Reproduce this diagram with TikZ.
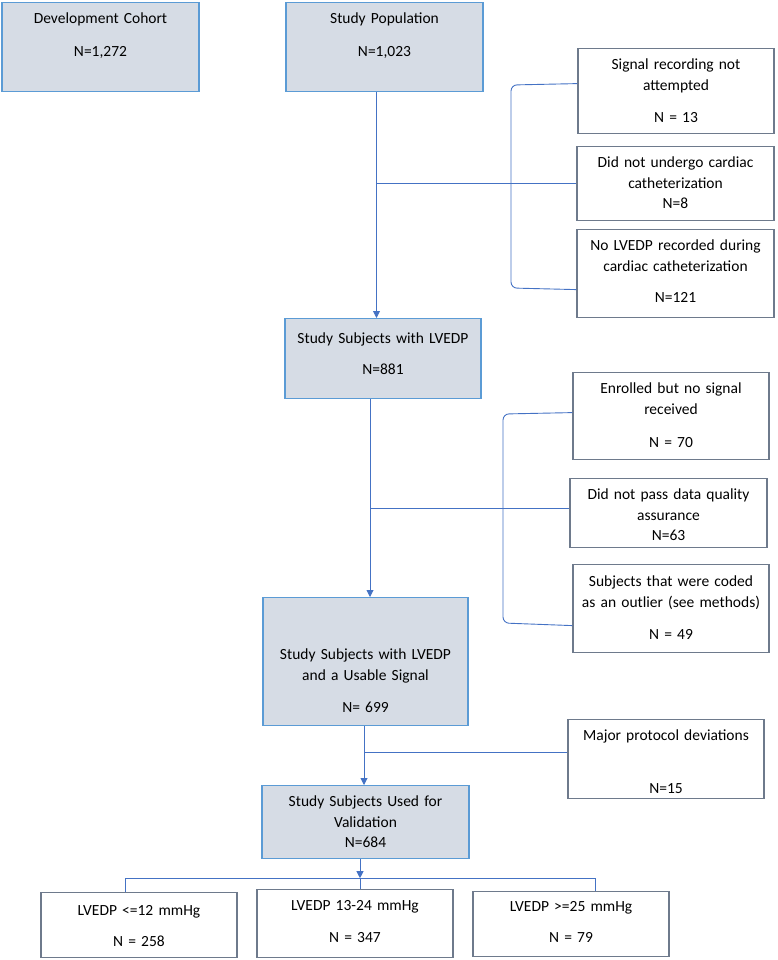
\documentclass[tikz,border=0pt]{standalone}
\usepackage{fontspec}
\setmainfont{Carlito}
\usepackage{xcolor}
\usepackage{tikz}
\usetikzlibrary{arrows.meta}
\usetikzlibrary{calc}

\definecolor{boxfill}{HTML}{D6DCE5}
\definecolor{boxblue}{HTML}{5B9BD5}
\definecolor{sidegray}{HTML}{6E7A8C}
\definecolor{lineblue}{HTML}{4472C4}

\begin{document}
\begin{tikzpicture}[x=1pt, y=-1pt, font=\fontsize{15.5}{20.5}\selectfont,
    cell/.style n args={3}{anchor=north, inner sep=0pt, align=center,
        text width=#1, text height=#2, text depth=#3},
    greybox/.style={draw=boxblue, fill=boxfill, line width=1.2pt},
    sidebox/.style={draw=sidegray, fill=white, line width=1.2pt},
    flow/.style={draw=lineblue, line width=0.9pt},
    flowarrow/.style={flow, -{Triangle[length=7pt, width=7pt]}, lineblue}]
    \useasboundingbox (0,0) rectangle (777,960);

    % main column
    \node[greybox, cell={197pt}{21pt}{68pt}] (dev) at (100.5,2) {Development Cohort\\[12.5pt]N=1,272};
    \node[greybox, cell={197pt}{21pt}{68pt}] (pop) at (384.5,2) {Study Population\\[12.5pt]N=1,023};
    \node[greybox, cell={196pt}{25pt}{55pt}] (lv) at (383,318) {Study Subjects with LVEDP\\[10.5pt]N=881};
    \node[greybox, cell={205pt}{62pt}{66pt}] (us) at (365.5,597) {Study Subjects with LVEDP\\and a Usable Signal\\[11.5pt]N= 699};
    \node[greybox, cell={207pt}{21pt}{52pt}] (val) at (365.5,785) {Study Subjects Used for\\Validation\\N=684};

    % exclusions
    \node[sidebox, cell={196pt}{21pt}{64pt}] (r1) at (676,48) {Signal recording not\\attempted\\[11.5pt]N = 13};
    \node[sidebox, cell={197pt}{21pt}{53pt}] (r2) at (675.5,146) {Did not undergo cardiac\\catheterization\\N=8};
    \node[sidebox, cell={197pt}{21pt}{67pt}] (r3) at (675.5,229) {No LVEDP recorded during\\cardiac catheterization\\[10.5pt]N=121};
    \node[sidebox, cell={196pt}{21pt}{66pt}] (en) at (671,372) {Enrolled but no signal\\received\\[12.5pt]N = 70};
    \node[sidebox, cell={197pt}{21pt}{48pt}] (dq) at (668.5,478) {Did not pass data quality\\assurance\\N=63};
    \node[sidebox, cell={196pt}{22pt}{66pt}] (out) at (671,564) {Subjects that were coded\\as an outlier (see methods)\\[11.5pt]N = 49};
    \node[sidebox, cell={196pt}{21pt}{58pt}] (maj) at (666,719) {Major protocol deviations\\[32.5pt]N=15};

    % LVEDP groups
    \node[sidebox, cell={196pt}{23pt}{42pt}] (b1) at (139,892) {LVEDP <=12 mmHg\\[10.5pt]N = 258};
    \node[sidebox, cell={196pt}{21pt}{47pt}] (b2) at (355,889) {LVEDP 13-24 mmHg\\[11.5pt]N = 347};
    \node[sidebox, cell={196pt}{20pt}{45pt}] (b3) at (571,891) {LVEDP >=25 mmHg\\[10.5pt]N = 79};

    % connectors
    \coordinate (t1) at ([xshift=-8pt]pop.south);
    \draw[flowarrow] (t1) -- (t1 |- lv.north);
    \draw[flow] (t1 |- r2.west) -- (r2.west);
    \draw[flow, rounded corners=6pt] ([yshift=7.5pt]r1.west) -- (511,85) -- (511,288) -- ([yshift=-16pt]r3.west);

    \coordinate (t2) at ([xshift=-13pt]lv.south);
    \coordinate (j2) at ([yshift=4.5pt]dq.west);
    \draw[flowarrow] (t2) -- (t2 |- us.north);
    \draw[flow] (t2 |- j2) -- (j2);
    \draw[flow, rounded corners=6pt] ([yshift=3.5pt]en.west) -- (503,414) -- (503,623) -- ([yshift=-17pt]out.west);

    \coordinate (t3) at ([xshift=-1.5pt]us.south);
    \coordinate (j3) at ([yshift=6.5pt]maj.west);
    \draw[flowarrow] (t3) -- (t3 |- val.north);
    \draw[flow] (t3 |- j3) -- (j3);

    \coordinate (t4) at ([xshift=-5.5pt]val.south);
    \coordinate (sp) at ([yshift=-19pt]t4);
    \draw[flowarrow] (t4) -- (sp);
    \draw[flow] (sp) -- (sp |- b2.north);
    \draw[flow] ([xshift=-14pt]b1.north) |- (sp) -| ([xshift=24pt]b3.north);
\end{tikzpicture}
\end{document}
